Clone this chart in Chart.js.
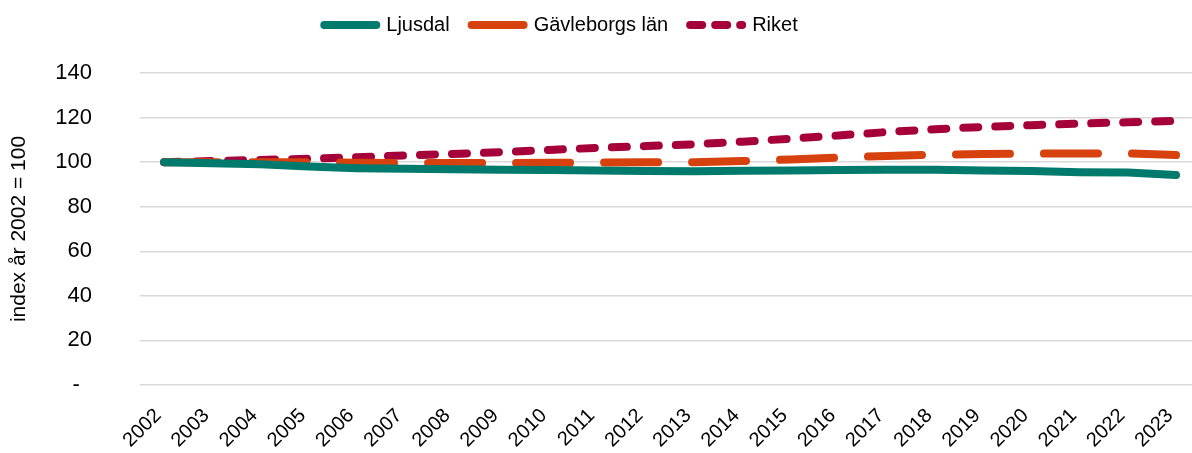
<!DOCTYPE html>
<html>
<head>
<meta charset="utf-8">
<script src="https://cdn.jsdelivr.net/npm/chart.js@4"></script>
<style>
  html, body { margin: 0; padding: 0; background: #fff; overflow: hidden; }
  #clip { width: 1192px; height: 453px; overflow: hidden; }
  #wrap { width: 1204px; height: 453px; }
</style>
</head>
<body>
<div id="clip"><div id="wrap"><canvas id="myLineChart"></canvas></div></div>
<script>
// index, år 2002 = 100
var years = ["2002", "2003", "2004", "2005", "2006", "2007", "2008", "2009", "2010", "2011", "2012",
    "2013", "2014", "2015", "2016", "2017", "2018", "2019", "2020", "2021", "2022", "2023"];

var ljusdal = [100, 99.5, 99, 98, 97.3, 97, 96.8, 96.6, 96.5, 96.2, 96,
    95.9, 96.1, 96.3, 96.5, 96.6, 96.6, 96.3, 96, 95.5, 95.3, 94.2];

var gavleborg = [100, 100, 100, 100, 99.7, 99.6, 99.6, 99.6, 99.7, 99.8, 99.9,
    100, 100.5, 101.2, 102, 102.8, 103.3, 103.6, 103.8, 103.9, 103.9, 103.2];

var riket = [100, 100.5, 101, 101.5, 102.2, 103, 103.7, 104.5, 105.5, 106.4, 107.2,
    108, 109.2, 110.5, 112, 113.5, 114.8, 115.8, 116.6, 117.3, 117.9, 118.5];

var yTicks = [0, 20, 40, 60, 80, 100, 120, 140];

Chart.defaults.font.family = "'Liberation Sans', Arial, sans-serif";
Chart.defaults.font.size = 20;
Chart.defaults.color = '#000';

// dash used for the small legend samples
var legendDash = [[], [], [12, 13]];

// legend gets a fixed height and sits a bit left of centre
const legendPlace = {
    id: 'legendPlace',
    beforeInit(chart) {
        const fit = chart.legend.fit;
        chart.legend.fit = function () {
            fit.call(this);
            this.height = 73;
        };
    },
    afterLayout(chart) {
        chart.legend.left -= 41;
        chart.legend.right -= 41;
        chart.legend.top -= 7;
        chart.legend.bottom -= 7;
    }
};

const data = {
    labels: years,
    datasets: [{
        label: 'Ljusdal',
        data: ljusdal,
        borderColor: '#007A6C',
        backgroundColor: '#007A6C',
        borderWidth: 8,
        borderCapStyle: 'round',
        pointRadius: 0,
        tension: 0
    },
    {
        label: 'Gävleborgs län',
        data: gavleborg,
        borderColor: '#D7410E',
        backgroundColor: '#D7410E',
        borderWidth: 8,
        borderDash: [54, 34],
        borderCapStyle: 'round',
        pointRadius: 0,
        tension: 0
    },
    {
        label: 'Riket',
        data: riket,
        borderColor: '#A6003A',
        backgroundColor: '#A6003A',
        borderWidth: 8,
        borderDash: [15, 17],
        borderCapStyle: 'round',
        pointRadius: 0,
        tension: 0
    }]
};

const config = {
    type: 'line',
    data: data,
    plugins: [legendPlace],
    options: {
        responsive: true,
        maintainAspectRatio: false,
        animation: false,
        layout: { padding: 0 },
        plugins: {
            legend: {
                position: 'top',
                labels: {
                    usePointStyle: true,
                    pointStyle: 'line',
                    pointStyleWidth: 52,
                    padding: 22,
                    color: '#000',
                    generateLabels: function (chart) {
                        var items = Chart.defaults.plugins.legend.labels.generateLabels(chart);
                        items.forEach(function (item, i) {
                            item.lineCap = 'round';
                            item.lineDash = legendDash[i];
                            item.lineWidth = 8;
                        });
                        return items;
                    }
                }
            },
            tooltip: { enabled: false }
        },
        scales: {
            x: {
                offset: true,
                grid: { display: false },
                border: { display: false },
                ticks: {
                    autoSkip: false,
                    minRotation: 45,
                    maxRotation: 45,
                    padding: 11,
                    labelOffset: -6,
                    font: { size: 20 }
                },
                afterFit: function (scale) { scale.height = 68; }
            },
            y: {
                min: 0,
                max: 140,
                afterBuildTicks: function (scale) {
                    scale.ticks = yTicks.map(function (v) { return { value: v }; });
                },
                grid: { color: '#d9d9d9', lineWidth: 1.5, drawTicks: false },
                border: { display: false },
                ticks: {
                    padding: 48,
                    font: { size: 22 },
                    callback: function (v) { return v === 0 ? '-  ' : v; }
                },
                title: {
                    display: true,
                    text: 'index år 2002 = 100',
                    font: { size: 21 },
                    padding: { top: 7, bottom: 0 }
                },
                afterFit: function (scale) { scale.width = 140; }
            }
        }
    }
};

var ctx = document.getElementById('myLineChart').getContext('2d');
var myLineChart = new Chart(ctx, config);
</script>
</body>
</html>
